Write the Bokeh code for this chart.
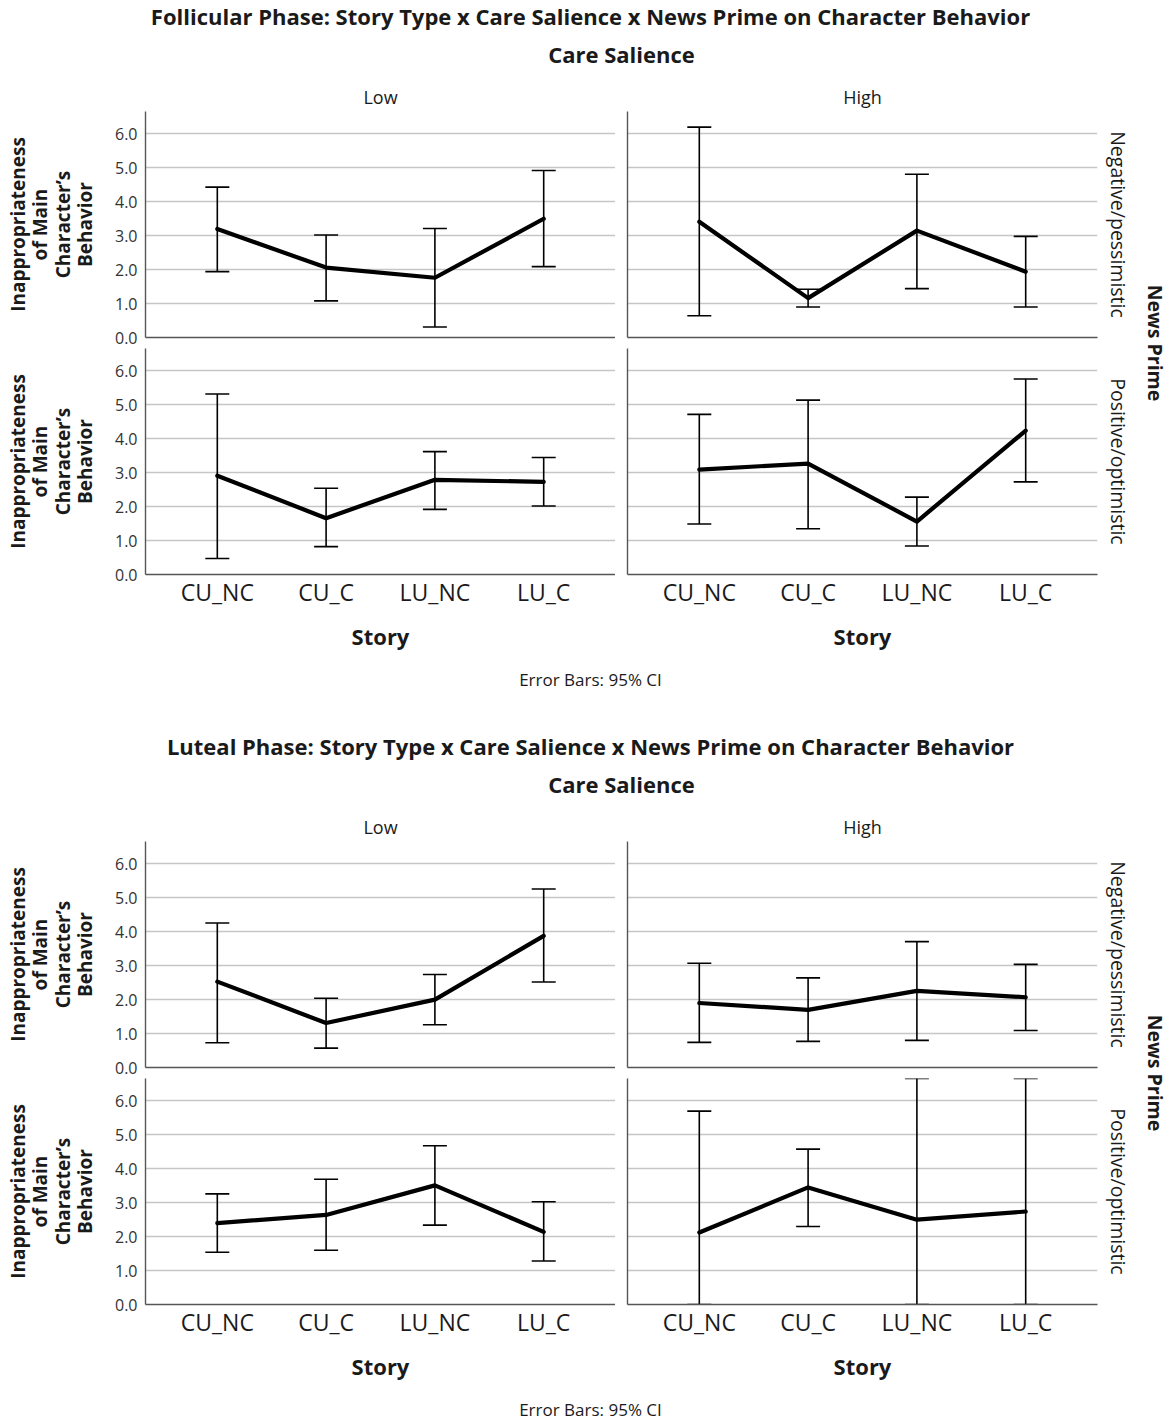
import numpy as np
from bokeh.plotting import figure
from bokeh.layouts import column, row
from bokeh.models import (Range1d, FixedTicker, PrintfTickFormatter, Whisker, TeeHead,
                          ColumnDataSource, Title)
from bokeh.embed import file_html
from bokeh.resources import INLINE
from bokeh.core.properties import value

FONT = "Open Sans"

# ---------------- data ----------------
stories = ["CU_NC", "CU_C", "LU_NC", "LU_C"]
care_levels = ["Low", "High"]
news_primes = ["Negative/pessimistic", "Positive/optimistic"]
y_ticks = [0, 1, 2, 3, 4, 5, 6]

# Follicular phase
fol_neg_low_mean = [3.20, 2.06, 1.76, 3.50]
fol_neg_low_lo = [1.94, 1.08, 0.31, 2.09]
fol_neg_low_hi = [4.43, 3.02, 3.21, 4.92]
fol_neg_high_mean = [3.41, 1.16, 3.15, 1.94]
fol_neg_high_lo = [0.64, 0.90, 1.44, 0.90]
fol_neg_high_hi = [6.20, 1.42, 4.81, 2.98]
fol_pos_low_mean = [2.91, 1.66, 2.79, 2.73]
fol_pos_low_lo = [0.47, 0.82, 1.92, 2.02]
fol_pos_low_hi = [5.32, 2.54, 3.62, 3.45]
fol_pos_high_mean = [3.09, 3.27, 1.56, 4.24]
fol_pos_high_lo = [1.49, 1.35, 0.84, 2.73]
fol_pos_high_hi = [4.72, 5.14, 2.28, 5.76]

# Luteal phase
lut_neg_low_mean = [2.53, 1.31, 2.00, 3.88]
lut_neg_low_lo = [0.73, 0.57, 1.26, 2.52]
lut_neg_low_hi = [4.26, 2.04, 2.74, 5.26]
lut_neg_high_mean = [1.90, 1.70, 2.26, 2.07]
lut_neg_high_lo = [0.74, 0.77, 0.80, 1.09]
lut_neg_high_hi = [3.07, 2.64, 3.71, 3.04]
lut_pos_low_mean = [2.40, 2.64, 3.51, 2.14]
lut_pos_low_lo = [1.54, 1.60, 2.34, 1.28]
lut_pos_low_hi = [3.26, 3.69, 4.68, 3.03]
lut_pos_high_mean = [2.12, 3.45, 2.50, 2.74]
lut_pos_high_lo = [0.00, 2.30, 0.00, 0.00]
lut_pos_high_hi = [5.70, 4.58, 6.66, 6.66]

fol_title = "Follicular Phase: Story Type x Care Salience x News Prime on Character Behavior"
lut_title = "Luteal Phase: Story Type x Care Salience x News Prime on Character Behavior"
y_label = "Inappropriateness\nof Main\nCharacter\u2019s\nBehavior"

# ---------------- layout constants ----------------
W = 1168
FRAME_W = 470
FRAME_H = 226
LEFT_B = 145
GAP = 12
RIGHT_B = 42
HEADER_H = 80
TOP_B = 31
ROW_GAP = 11
BOTTOM_B = 78
GRID_COLOR = "#c6c6c6"
AXIS_COLOR = "#555555"
TEXT_COLOR = "#1a1a1a"


def text_fig(h, items):
    p = figure(width=W, height=h, x_range=Range1d(0, W), y_range=Range1d(h, 0),
               x_axis_type=None, y_axis_type=None, toolbar_location=None,
               output_backend="svg", min_border=0)
    p.outline_line_color = None
    p.grid.visible = False
    for (x, y, t, size, style) in items:
        p.text(x=[x], y=[y], text=[t], text_font=value(FONT), text_font_size=size,
               text_font_style=style, text_align="center", text_baseline="middle",
               text_color=TEXT_COLOR)
    return p


def style_axis(ax):
    ax.axis_line_color = AXIS_COLOR
    ax.axis_line_width = 1.4
    ax.major_tick_out = 0
    ax.major_tick_in = 0
    ax.minor_tick_out = 0
    ax.minor_tick_in = 0


def panel(mean, lo, hi, col, rowi):
    is_left = col == 0
    is_bottom = rowi == 1
    p = figure(frame_width=FRAME_W, frame_height=FRAME_H, output_backend="svg",
               toolbar_location=None,
               x_range=Range1d(-0.66, 3.66), y_range=Range1d(0, 6.66),
               min_border_left=LEFT_B if is_left else GAP,
               min_border_right=0 if is_left else RIGHT_B,
               min_border_top=TOP_B if rowi == 0 else 0,
               min_border_bottom=BOTTOM_B if is_bottom else ROW_GAP)
    p.outline_line_color = None
    p.background_fill_color = "white"
    p.xgrid.visible = False
    p.ygrid.ticker = FixedTicker(ticks=y_ticks)
    p.ygrid.grid_line_color = GRID_COLOR
    p.ygrid.grid_line_width = 1.3

    # y axis
    ya = p.yaxis[0]
    style_axis(ya)
    if is_left:
        ya.ticker = FixedTicker(ticks=y_ticks)
        ya.formatter = PrintfTickFormatter(format="%.1f")
        ya.major_label_text_font = FONT
        ya.major_label_text_font_size = "16px"
        ya.major_label_text_color = "#333333"
        ya.major_label_standoff = 8
        ya.axis_label = y_label
        ya.axis_label_text_font = FONT
        ya.axis_label_text_font_style = "bold"
        ya.axis_label_text_font_size = "19px"
        ya.axis_label_text_line_height = 0.86
        ya.axis_label_text_color = TEXT_COLOR
        ya.axis_label_standoff = 14
    else:
        ya.ticker = FixedTicker(ticks=[])

    # x axis
    xa = p.xaxis[0]
    style_axis(xa)
    if is_bottom:
        xa.ticker = FixedTicker(ticks=list(range(len(stories))))
        xa.major_label_overrides = {i: s for i, s in enumerate(stories)}
        xa.major_label_text_font = FONT
        xa.major_label_text_font_size = "23px"
        xa.major_label_text_color = TEXT_COLOR
        xa.major_label_standoff = 1
        xa.axis_label = "Story"
        xa.axis_label_text_font = FONT
        xa.axis_label_text_font_style = "bold"
        xa.axis_label_text_font_size = "22px"
        xa.axis_label_text_color = TEXT_COLOR
        xa.axis_label_standoff = 10
    else:
        xa.ticker = FixedTicker(ticks=[])

    if rowi == 0:
        p.add_layout(Title(text=care_levels[col], align="center", text_font=FONT,
                           text_font_size="18px", text_font_style="normal",
                           text_color=TEXT_COLOR, standoff=5), "above")
    if not is_left:
        p.add_layout(Title(text=news_primes[rowi], align="center", text_font=FONT,
                           text_font_size="19.5px", text_font_style="normal",
                           text_color=TEXT_COLOR, standoff=14), "right")

    src = ColumnDataSource(dict(x=list(range(len(stories))), mean=mean, lo=lo, hi=hi))
    p.add_layout(Whisker(source=src, base="x", lower="lo", upper="hi",
                         line_color="black", line_width=1.6,
                         upper_head=TeeHead(size=24, line_color="black", line_width=1.6),
                         lower_head=TeeHead(size=24, line_color="black", line_width=1.6)))
    p.line("x", "mean", source=src, line_color="black", line_width=4.2,
           line_join="round", line_cap="round")
    return p


def news_fig():
    p = figure(frame_width=1, frame_height=2 * FRAME_H + ROW_GAP, output_backend="svg",
               toolbar_location=None, x_axis_type=None, y_axis_type=None,
               min_border_left=0,
               min_border_right=W - (LEFT_B + FRAME_W + GAP + FRAME_W + RIGHT_B) - 1,
               min_border_top=TOP_B, min_border_bottom=BOTTOM_B)
    p.outline_line_color = None
    p.grid.visible = False
    p.add_layout(Title(text="News Prime", align="center", text_font=FONT,
                       text_font_size="19.5px", text_font_style="bold",
                       text_color=TEXT_COLOR, standoff=0), "right")
    return p


def block(title, data, footer_h):
    header = text_fig(HEADER_H, [(590, 15, title, "22px", "bold"),
                                 (621, 53, "Care Salience", "22px", "bold")])
    (nl, nh, pl, ph) = data
    p00 = panel(*nl, 0, 0)
    p01 = panel(*nh, 1, 0)
    p10 = panel(*pl, 0, 1)
    p11 = panel(*ph, 1, 1)
    body = row(column(p00, p10), column(p01, p11), news_fig())
    footer = text_fig(footer_h, [(590, 26, "Error Bars: 95% CI", "17px", "normal")])
    return column(header, body, footer)


fol = block(fol_title,
            ((fol_neg_low_mean, fol_neg_low_lo, fol_neg_low_hi),
             (fol_neg_high_mean, fol_neg_high_lo, fol_neg_high_hi),
             (fol_pos_low_mean, fol_pos_low_lo, fol_pos_low_hi),
             (fol_pos_high_mean, fol_pos_high_lo, fol_pos_high_hi)), 77)
lut = block(lut_title,
            ((lut_neg_low_mean, lut_neg_low_lo, lut_neg_low_hi),
             (lut_neg_high_mean, lut_neg_high_lo, lut_neg_high_hi),
             (lut_pos_low_mean, lut_pos_low_lo, lut_pos_low_hi),
             (lut_pos_high_mean, lut_pos_high_lo, lut_pos_high_hi)), 39)

page = column(fol, lut)
open("out.html", "w").write(file_html(page, INLINE))
